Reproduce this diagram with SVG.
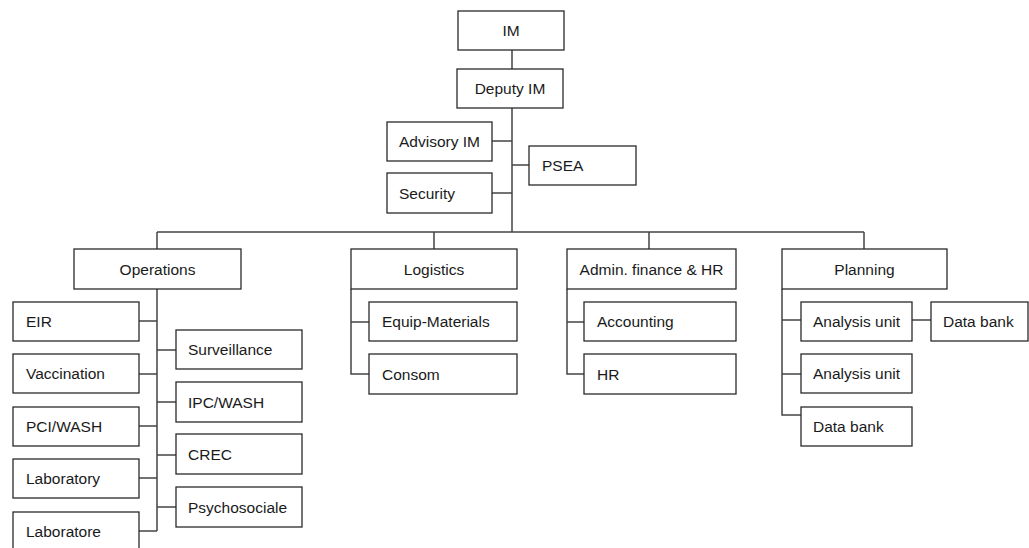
<svg xmlns="http://www.w3.org/2000/svg" width="1029" height="548" viewBox="0 0 1029 548">
<style>
.b{fill:#fff;stroke:#2a2a2a;stroke-width:1.3}
.t{font-family:"Liberation Sans",Arial,sans-serif;font-size:15.5px;fill:#1a1a1a}
.c{text-anchor:middle}
.l{fill:none;stroke:#444;stroke-width:1.5}
</style>
<rect width="1029" height="548" fill="#fff"/>
<g id="connectors">
<path class="l" d="M512,50V69M512,108V232M492,141H512M492,193H512M512,165H529M157,232H864M157,232V249M434,232V249M649,232V249M864,232V249"/>
<path class="l" d="M157,289V531M139,321H157M139,374H157M139,426H157M139,478H157M139,531H157M157,350H176M157,402H176M157,455H176M157,507H176"/>
<path class="l" d="M351,289V374H369M351,322H369M567,289V374H584M567,322H584"/>
<path class="l" d="M782,289V415H801M782,320H801M782,374H801M912,320H931"/>
</g>
<g id="im"><rect class="b" x="458" y="11" width="106" height="39"/><text class="t c" x="511" y="36">IM</text></g>
<g id="deputy"><rect class="b" x="457" y="69" width="106" height="39"/><text class="t c" x="510" y="94">Deputy IM</text></g>
<g id="advisory"><rect class="b" x="387" y="122" width="105" height="39"/><text class="t" x="399" y="147">Advisory IM</text></g>
<g id="security"><rect class="b" x="387" y="173" width="105" height="40"/><text class="t" x="399" y="199">Security</text></g>
<g id="psea"><rect class="b" x="529" y="146" width="107" height="39"/><text class="t" x="542" y="171">PSEA</text></g>
<g id="operations"><rect class="b" x="74" y="249" width="167" height="40"/><text class="t c" x="157.5" y="274.5">Operations</text></g>
<g id="logistics"><rect class="b" x="351" y="249" width="166" height="40"/><text class="t c" x="434" y="274.5">Logistics</text></g>
<g id="admin"><rect class="b" x="567" y="249" width="169" height="40"/><text class="t c" x="651.5" y="274.5">Admin. finance &amp; HR</text></g>
<g id="planning"><rect class="b" x="782" y="249" width="165" height="40"/><text class="t c" x="864.5" y="274.5">Planning</text></g>
<g id="eir"><rect class="b" x="13" y="302" width="126" height="39"/><text class="t" x="26" y="327">EIR</text></g>
<g id="vaccination"><rect class="b" x="13" y="354" width="126" height="39"/><text class="t" x="26" y="379">Vaccination</text></g>
<g id="pciwash"><rect class="b" x="13" y="407" width="126" height="39"/><text class="t" x="26" y="432">PCI/WASH</text></g>
<g id="laboratory"><rect class="b" x="13" y="459" width="126" height="39"/><text class="t" x="26" y="484">Laboratory</text></g>
<g id="laboratore"><rect class="b" x="13" y="512" width="126" height="45"/><text class="t" x="26" y="537">Laboratore</text></g>
<g id="surveillance"><rect class="b" x="176" y="330" width="126" height="39"/><text class="t" x="188" y="355">Surveillance</text></g>
<g id="ipcwash"><rect class="b" x="176" y="382" width="126" height="40"/><text class="t" x="188" y="407.5">IPC/WASH</text></g>
<g id="crec"><rect class="b" x="176" y="434" width="126" height="40"/><text class="t" x="188" y="459.5">CREC</text></g>
<g id="psychosociale"><rect class="b" x="176" y="487" width="126" height="40"/><text class="t" x="188" y="512.5">Psychosociale</text></g>
<g id="equip"><rect class="b" x="369" y="302" width="148" height="39"/><text class="t" x="382" y="327">Equip-Materials</text></g>
<g id="consom"><rect class="b" x="369" y="354" width="148" height="40"/><text class="t" x="382" y="379.5">Consom</text></g>
<g id="accounting"><rect class="b" x="584" y="302" width="152" height="39"/><text class="t" x="597" y="327">Accounting</text></g>
<g id="hr"><rect class="b" x="584" y="354" width="152" height="40"/><text class="t" x="597" y="379.5">HR</text></g>
<g id="analysis1"><rect class="b" x="801" y="302" width="111" height="39"/><text class="t" x="813" y="327">Analysis unit</text></g>
<g id="databank1"><rect class="b" x="931" y="302" width="97" height="39"/><text class="t" x="943" y="327">Data bank</text></g>
<g id="analysis2"><rect class="b" x="801" y="354" width="111" height="39"/><text class="t" x="813" y="379">Analysis unit</text></g>
<g id="databank2"><rect class="b" x="801" y="407" width="111" height="39"/><text class="t" x="813" y="432">Data bank</text></g>
</svg>
